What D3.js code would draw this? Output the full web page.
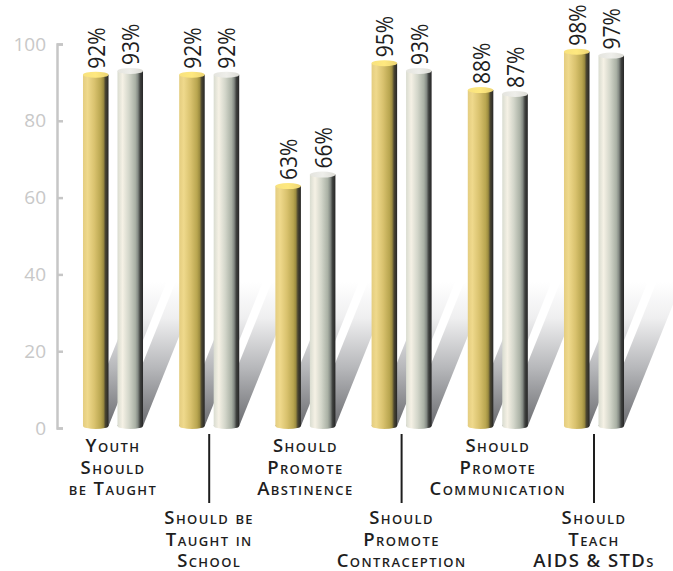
<!DOCTYPE html>
<html>
<head>
<meta charset="utf-8">
<script src="https://cdn.jsdelivr.net/npm/d3@7"></script>
<style>
  html, body { margin: 0; padding: 0; background: #ffffff; }
  svg { display: block; }
</style>
</head>
<body>
<svg id="chart" width="673" height="571"></svg>
<script>
// Survey results: share agreeing with each statement, two respondent groups
const categories = [
  ["Youth", "Should", "be Taught"],
  ["Should be", "Taught in", "School"],
  ["Should", "Promote", "Abstinence"],
  ["Should", "Promote", "Contraception"],
  ["Should", "Promote", "Communication"],
  ["Should", "Teach", "AIDS & STDs"]
];
const goldValues = [92, 92, 63, 95, 88, 98];
const silverValues = [93, 92, 66, 93, 87, 97];
const yTicks = [0, 20, 40, 60, 80, 100];

const svg = d3.select("#chart");

const y = d3.scaleLinear().domain([0, 100]).range([428, 44]);
const x = d3.scaleBand()
  .domain(d3.range(categories.length))
  .range([64.9, 642.1])
  .paddingInner(0.376)
  .paddingOuter(0.188);
const xSub = d3.scaleBand()
  .domain(["gold", "silver"])
  .range([0, x.bandwidth()])
  .paddingInner(0.26);

const series = [
  { key: "gold", values: goldValues },
  { key: "silver", values: silverValues }
];

const defs = svg.append("defs");

// Cylinder body shading (left-to-right)
function hGrad(id, stops) {
  const g = defs.append("linearGradient").attr("id", id)
    .attr("x1", "0%").attr("x2", "100%").attr("y1", "0%").attr("y2", "0%");
  stops.forEach(([o, c]) => g.append("stop").attr("offset", o).attr("stop-color", c));
}
hGrad("body-gold", [
  [0, "#e4cd80"], [0.18, "#efd98c"], [0.45, "#d9c26e"], [0.7, "#b9a650"],
  [0.8, "#9c8c40"], [0.88, "#4a4530"], [1, "#262626"]
]);
hGrad("body-silver", [
  [0, "#d9dcd0"], [0.2, "#f5f1e5"], [0.45, "#d3d6ca"], [0.7, "#aab1a5"],
  [0.8, "#848a84"], [0.89, "#3e403e"], [1, "#262626"]
]);
hGrad("cap-gold", [[0, "#f8e27e"], [0.5, "#fee87f"], [1, "#ecd472"]]);
hGrad("cap-silver", [[0, "#e4e4de"], [0.5, "#eeeeea"], [1, "#dcdcd6"]]);

// Cast shadow fades from the floor up
const shadowTop = 282;
const shadowBase = y(0) - 2;
const shadowDx = 58;
const sg = defs.append("linearGradient").attr("id", "shadow")
  .attr("gradientUnits", "userSpaceOnUse")
  .attr("x1", 0).attr("x2", 0).attr("y1", shadowTop).attr("y2", shadowBase);
[[0, "#ffffff"], [0.25, "#efeff0"], [0.6, "#b6b7ba"], [1, "#6c6d71"]]
  .forEach(([o, c]) => sg.append("stop").attr("offset", o).attr("stop-color", c));

const bars = [];
categories.forEach((c, i) => {
  series.forEach(s => {
    bars.push({ i, key: s.key, value: s.values[i], x0: x(i) + xSub(s.key), w: xSub.bandwidth() });
  });
});

// Shadows first, so every cylinder sits on top of them
svg.append("g").selectAll("polygon").data(bars).join("polygon")
  .attr("fill", "url(#shadow)")
  .attr("points", d => [
    [d.x0, shadowBase], [d.x0 + d.w, shadowBase],
    [d.x0 + d.w + shadowDx, shadowTop], [d.x0 + shadowDx, shadowTop]
  ].map(p => p.join(",")).join(" "));

// Y axis: ticks point into the plot
const axis = d3.axisLeft(y).tickValues(yTicks).tickSize(-6).tickPadding(11);
const gAxis = svg.append("g").attr("transform", "translate(57,0)").call(axis);
gAxis.select(".domain").attr("stroke", "#c6c6c6").attr("stroke-width", 2.5);
gAxis.selectAll(".tick line").attr("stroke", "#c6c6c6").attr("stroke-width", 2.5);
gAxis.selectAll(".tick text")
  .attr("fill", "#c8c8c8")
  .attr("font-family", "'Open Sans', sans-serif")
  .attr("font-size", 19);

// Cylinders
const ry = 3;
const bottomY = y(0) - 2;
const gBars = svg.append("g").selectAll("g").data(bars).join("g");
gBars.append("path")
  .attr("fill", d => `url(#body-${d.key})`)
  .attr("d", d => {
    const top = y(d.value), r = d.w / 2;
    return `M${d.x0},${top} V${bottomY} A${r},${ry} 0 0 0 ${d.x0 + d.w},${bottomY} V${top} Z`;
  });
gBars.append("ellipse")
  .attr("fill", d => `url(#cap-${d.key})`)
  .attr("cx", d => d.x0 + d.w / 2)
  .attr("cy", d => y(d.value))
  .attr("rx", d => d.w / 2)
  .attr("ry", ry);

// Value labels, rotated to read upward (glyphs stretched a little for a tall, narrow look)
gBars.append("text")
  .attr("transform", d => `translate(${d.x0 + d.w / 2},${y(d.value) - 6}) rotate(-90) scale(1,1.14)`)
  .attr("dominant-baseline", "central")
  .attr("text-anchor", "start")
  .attr("fill", "#1e1e1e")
  .attr("font-family", "'Open Sans', sans-serif")
  .attr("font-size", 21)
  .text(d => d.value + "%");

// Category labels alternate above / below, lower ones get a leader line
const lineGap = 21.5;
const gCat = svg.append("g").selectAll("g").data(categories).join("g")
  .attr("transform", (d, i) => `translate(${x(i) + x.bandwidth() / 2},0)`);
gCat.filter((d, i) => i % 2 === 1).append("line")
  .attr("x1", 0).attr("x2", 0).attr("y1", 434).attr("y2", 503)
  .attr("stroke", "#1e1e1e").attr("stroke-width", 2);
gCat.append("text")
  .attr("y", (d, i) => i % 2 === 0 ? 452 : 524)
  .attr("text-anchor", "middle")
  .attr("fill", "#1e1e1e")
  .attr("font-family", "'Open Sans', sans-serif")
  .attr("font-weight", 600)
  .attr("font-size", 18.5)
  .attr("letter-spacing", 1.4)
  .style("font-variant", "small-caps")
  .selectAll("tspan").data(d => d).join("tspan")
    .attr("x", 0)
    .attr("dy", (t, k) => k === 0 ? 0 : lineGap)
    .text(t => t);
</script>
</body>
</html>
